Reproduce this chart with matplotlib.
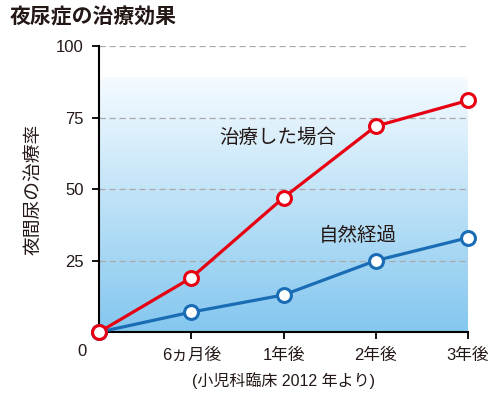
import matplotlib.pyplot as plt
import numpy as np
from matplotlib.colors import LinearSegmentedColormap

plt.rcParams['font.family'] = ['Liberation Sans', 'Noto Sans CJK JP', 'DejaVu Sans']

# data
periods = ['0', '6ヵ月後', '1年後', '2年後', '3年後']
treated = [0, 19, 47, 72, 81]
natural = [0, 7, 13, 25, 33]
yticks = [25, 50, 75, 100]

red = '#e60012'
blue = '#1a6db5'
txt = '#231815'

fig = plt.figure(figsize=(5, 3.94), dpi=100)
ax = fig.add_axes([0.198, 0.157, 0.738, 0.726])

x = np.arange(len(periods))

# gradient background
cmap = LinearSegmentedColormap.from_list('bg', ['#f5fbff', '#84c7ef'])
grad = np.linspace(0, 1, 256).reshape(-1, 1)
ax.imshow(grad, cmap=cmap, aspect='auto', extent=[0, 4, 0, 89], origin='upper',
          vmin=0, vmax=1, zorder=0)

for yv in yticks:
    ax.axhline(yv, color='#aaaaaa', lw=0.9, ls=(0, (5, 3)), zorder=1)

ax.plot(x, treated, color=red, lw=2.3, marker='o', ms=10, mfc='white',
        mec=red, mew=2.2, zorder=4, clip_on=False)
ax.plot(x, natural, color=blue, lw=2.3, marker='o', ms=10, mfc='white',
        mec=blue, mew=2.2, zorder=3, clip_on=False)

ax.text(1.94, 68, '治療した場合', fontsize=14, color=txt, ha='center', va='center')
ax.text(2.81, 33.5, '自然経過', fontsize=14, color=txt, ha='center', va='center')

ax.set_xlim(0, 4)
ax.set_ylim(0, 100)
ax.set_xticks(x[1:])
ax.set_xticklabels(periods[1:], fontsize=12, color=txt)
ax.set_yticks(yticks)
ax.set_yticklabels([str(v) for v in yticks], fontsize=12, color=txt)
ax.tick_params(axis='both', length=5, width=1.3, color='black', pad=6)
ax.annotate(periods[0], xy=(0, 0), xycoords='data', xytext=(-12, -14),
            textcoords='offset points', fontsize=12, color=txt, ha='center', va='center')

for s in ['top', 'right']:
    ax.spines[s].set_visible(False)
for s in ['left', 'bottom']:
    ax.spines[s].set_linewidth(1.5)

ax.set_ylabel('夜間尿の治療率', fontsize=13.5, color=txt, labelpad=10)

fig.text(0.02, 0.955, '夜尿症の治療効果', fontsize=15, fontweight='bold', color=txt,
         ha='left', va='center')
fig.text(0.566, 0.033, '(小児科臨床 2012 年より)', fontsize=11.5, color=txt,
         ha='center', va='center')

fig.savefig('out.png', dpi=100)
